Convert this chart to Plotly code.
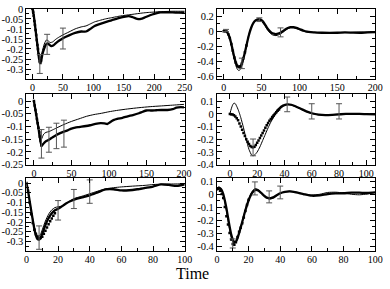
import plotly.graph_objects as go

# ---------------- Panel A (top-left) ----------------
a_thick_x = [0, 2, 4, 6, 8, 10, 12, 14, 16, 19, 22, 25, 28, 31, 34, 38, 44, 50, 60, 70, 80, 88, 95, 102, 110, 120, 130, 140, 150, 158, 165, 172, 178, 185, 193, 200, 210, 220, 230, 240, 250]
a_thick_y = [0, -0.03, -0.08, -0.13, -0.18, -0.23, -0.265, -0.26, -0.23, -0.2, -0.178, -0.172, -0.18, -0.186, -0.183, -0.172, -0.158, -0.146, -0.132, -0.12, -0.113, -0.113, -0.1, -0.085, -0.076, -0.066, -0.057, -0.048, -0.04, -0.036, -0.042, -0.05, -0.05, -0.042, -0.032, -0.025, -0.018, -0.017, -0.018, -0.019, -0.02]
a_thin_x = [0, 2, 4, 6, 8, 10, 12, 14, 17, 20, 23, 26, 29, 33, 38, 44, 50, 60, 70, 80, 88, 95, 102, 110, 120, 130, 140, 150, 160, 170, 180, 190, 200, 210, 220, 230, 240, 250]
a_thin_y = [0, -0.03, -0.08, -0.13, -0.18, -0.22, -0.245, -0.235, -0.2, -0.17, -0.155, -0.16, -0.168, -0.165, -0.152, -0.14, -0.13, -0.115, -0.1, -0.09, -0.085, -0.075, -0.065, -0.058, -0.05, -0.044, -0.038, -0.033, -0.029, -0.025, -0.021, -0.018, -0.016, -0.014, -0.013, -0.012, -0.012, -0.012]
a_dot_x = [0, 1, 2, 3, 4, 5, 6, 7, 8, 9, 10, 11, 12, 13, 14]
a_dot_y = [0, -0.015, -0.035, -0.06, -0.08, -0.105, -0.13, -0.155, -0.18, -0.2, -0.225, -0.245, -0.265, -0.27, -0.26]
a_err_x = [12, 24, 50]
a_err_y = [-0.275, -0.177, -0.148]
a_err = [0.047, 0.05, 0.052]

# ---------------- Panel B (top-right) ----------------
b_x = [0, 2, 4, 6, 8, 10, 12, 14, 16, 18, 20, 22, 24, 26, 28, 30, 33, 36, 39, 42, 45, 48, 51, 54, 57, 60, 63, 66, 69, 72, 76, 80, 84, 88, 92, 96, 100, 105, 110, 115, 120, 130, 140, 150, 160, 170, 180, 190, 200]
b_thin_y = [0, 0.01, 0.0, -0.04, -0.1, -0.19, -0.29, -0.38, -0.46, -0.51, -0.525, -0.51, -0.46, -0.38, -0.29, -0.19, -0.05, 0.05, 0.11, 0.14, 0.15, 0.145, 0.12, 0.08, 0.03, -0.01, -0.04, -0.055, -0.058, -0.05, -0.03, 0.0, 0.03, 0.045, 0.045, 0.035, 0.02, 0.0, -0.01, -0.015, -0.018, -0.02, -0.02, -0.02, -0.018, -0.015, -0.012, -0.01, -0.008]
b_thick_y = [0, 0.005, -0.005, -0.04, -0.09, -0.17, -0.26, -0.35, -0.42, -0.465, -0.48, -0.47, -0.43, -0.36, -0.28, -0.19, -0.06, 0.04, 0.11, 0.145, 0.16, 0.16, 0.14, 0.1, 0.05, 0.01, -0.02, -0.033, -0.037, -0.03, -0.012, 0.015, 0.04, 0.054, 0.055, 0.045, 0.03, 0.01, -0.005, -0.012, -0.015, -0.02, -0.022, -0.02, -0.015, -0.018, -0.02, -0.015, -0.012]
b_dot_x = [0, 2, 4, 6, 8, 10, 12, 14, 16, 18, 20, 22, 24, 26, 28, 30]
b_dot_y = [0, 0.005, -0.005, -0.04, -0.09, -0.17, -0.26, -0.35, -0.42, -0.465, -0.48, -0.47, -0.43, -0.36, -0.28, -0.19]
b_err_x = [3, 24, 47, 75]
b_err_y = [0.01, -0.43, 0.155, -0.015]
b_err = [0.015, 0.07, 0.025, 0.06]

# ---------------- Panel C (middle-left) ----------------
c_thick_x = [0, 2, 4, 6, 8, 10, 12, 15, 20, 25, 30, 35, 40, 45, 50, 55, 60, 67, 75, 82, 89, 94, 98, 102, 106, 111, 118, 125, 132, 140, 145, 150, 156, 163, 170, 178, 185, 190, 196, 200]
c_thick_y = [0, -0.035, -0.07, -0.105, -0.14, -0.175, -0.17, -0.16, -0.152, -0.142, -0.133, -0.126, -0.12, -0.115, -0.108, -0.104, -0.102, -0.099, -0.095, -0.09, -0.087, -0.088, -0.09, -0.082, -0.075, -0.07, -0.066, -0.06, -0.055, -0.048, -0.042, -0.037, -0.037, -0.036, -0.035, -0.035, -0.032, -0.026, -0.024, -0.025]
c_thin_x = [0, 2, 4, 6, 8, 10, 13, 16, 20, 25, 30, 40, 50, 60, 70, 80, 90, 100, 110, 125, 140, 155, 170, 185, 200]
c_thin_y = [0, -0.035, -0.075, -0.115, -0.155, -0.15, -0.13, -0.123, -0.12, -0.113, -0.106, -0.092, -0.08, -0.07, -0.06, -0.053, -0.048, -0.042, -0.037, -0.031, -0.026, -0.022, -0.019, -0.016, -0.013]
c_dot_x = [0, 1, 2, 3, 4, 5, 6, 7, 8, 9, 10]
c_dot_y = [0, -0.017, -0.035, -0.052, -0.07, -0.087, -0.105, -0.122, -0.14, -0.157, -0.175]
c_err_x = [10, 20, 30, 40]
c_err_y = [-0.168, -0.152, -0.137, -0.128]
c_err = [0.056, 0.049, 0.05, 0.053]

# ---------------- Panel D (middle-right) ----------------
d_thin_x = [0, 1, 2, 3, 4, 5, 6, 7, 8, 10, 12, 14, 16, 17, 18, 20, 22, 24, 26, 28, 30, 32, 34, 36, 38, 40, 42, 44, 46, 48, 50, 53, 56, 60, 64, 68, 72, 76, 80, 85, 90, 95, 100, 107]
d_thin_y = [0, 0.04, 0.07, 0.085, 0.08, 0.06, 0.035, 0.005, -0.03, -0.11, -0.2, -0.28, -0.325, -0.33, -0.325, -0.3, -0.26, -0.21, -0.16, -0.11, -0.065, -0.025, 0.01, 0.035, 0.055, 0.068, 0.073, 0.072, 0.066, 0.058, 0.048, 0.033, 0.018, 0.003, -0.006, -0.009, -0.008, -0.005, -0.002, 0.0, 0.0, 0.0, 0.0, -0.002]
d_thick_x = [30, 33, 36, 39, 42, 45, 48, 52, 56, 60, 65, 70, 75, 80, 85, 90, 95, 100, 107]
d_thick_y = [-0.05, 0.0, 0.04, 0.065, 0.075, 0.072, 0.06, 0.04, 0.02, 0.005, -0.006, -0.01, -0.008, -0.004, 0.0, 0.0, 0.0, -0.002, -0.004]
d_dot_x = [0, 1, 2, 3, 4, 5, 6, 7, 8, 9, 10, 11, 12, 13, 14, 15, 16, 17, 18, 19, 20, 21, 22, 23, 24, 25, 26, 27, 28, 29, 30, 31, 32, 33, 34, 35, 36]
d_dot_y = [0, -0.002, -0.005, -0.01, -0.02, -0.035, -0.05, -0.075, -0.1, -0.125, -0.15, -0.175, -0.2, -0.22, -0.238, -0.252, -0.26, -0.262, -0.258, -0.245, -0.228, -0.21, -0.19, -0.17, -0.15, -0.13, -0.11, -0.09, -0.072, -0.055, -0.04, -0.025, -0.012, 0.0, 0.012, 0.024, 0.035]
d_err_x = [17, 42, 60, 80]
d_err_y = [-0.264, 0.075, 0.02, 0.02]
d_err = [0.066, 0.058, 0.06, 0.06]

# ---------------- Panel E (bottom-left) ----------------
e_thick_x = [0, 1, 2, 3, 4, 5, 6, 7, 8, 9, 10, 12, 14, 16, 18, 20, 22, 25, 28, 31, 35, 40, 45, 50, 55, 60, 65, 70, 75, 80, 85, 90, 95, 100]
e_thick_y = [0, -0.04, -0.09, -0.14, -0.19, -0.235, -0.27, -0.288, -0.29, -0.28, -0.26, -0.215, -0.18, -0.155, -0.14, -0.132, -0.122, -0.105, -0.092, -0.083, -0.074, -0.063, -0.048, -0.033, -0.032, -0.038, -0.037, -0.032, -0.025, -0.018, -0.007, -0.01, -0.015, -0.007]
e_thin_x = [0, 1, 2, 3, 4, 5, 6, 7, 8, 9, 10, 12, 14, 16, 18, 20, 23, 26, 30, 35, 40, 45, 50, 55, 60, 67, 75, 80, 87, 93, 100]
e_thin_y = [0, -0.04, -0.09, -0.14, -0.185, -0.225, -0.255, -0.27, -0.272, -0.262, -0.24, -0.195, -0.16, -0.138, -0.126, -0.122, -0.118, -0.1, -0.08, -0.068, -0.055, -0.042, -0.03, -0.024, -0.02, -0.016, -0.012, -0.008, -0.005, -0.005, -0.004]
e_dot_x = [0, 1, 2, 3, 4, 5, 6, 7, 8, 9, 10, 11, 12, 13, 14, 15, 16, 17, 18]
e_dot_y = [0, -0.04, -0.1, -0.16, -0.205, -0.24, -0.262, -0.276, -0.282, -0.282, -0.275, -0.26, -0.245, -0.228, -0.212, -0.196, -0.182, -0.168, -0.155]
e_err_x = [8, 20, 30, 40]
e_err_y = [-0.28, -0.14, -0.082, -0.044]
e_err = [0.06, 0.05, 0.049, 0.06]

# ---------------- Panel F (bottom-right) ----------------
f_x = [0, 1, 2, 3, 4, 5, 6, 7, 8, 9, 10, 11, 12, 13, 14, 16, 18, 20, 22, 24, 26, 28, 30, 32, 34, 36, 38, 40, 43, 46, 50, 55, 60, 65, 70, 75, 80, 85, 90, 95, 100]
f_thin_y = [0.04, 0.055, 0.05, 0.03, -0.005, -0.06, -0.13, -0.2, -0.27, -0.33, -0.37, -0.38, -0.37, -0.34, -0.3, -0.21, -0.12, -0.04, 0.015, 0.042, 0.035, 0.01, -0.018, -0.035, -0.038, -0.028, -0.01, 0.005, 0.018, 0.022, 0.015, 0.0, -0.008, -0.002, 0.012, 0.014, 0.008, -0.002, -0.006, 0.0, 0.012]
f_thick_y = [0.03, 0.045, 0.045, 0.03, 0.0, -0.05, -0.11, -0.18, -0.25, -0.31, -0.35, -0.37, -0.365, -0.34, -0.3, -0.215, -0.125, -0.05, 0.005, 0.03, 0.028, 0.008, -0.015, -0.03, -0.032, -0.024, -0.008, 0.006, 0.016, 0.02, 0.012, -0.002, -0.013, -0.01, 0.0, 0.005, 0.006, 0.01, 0.01, 0.008, 0.012]
f_dot_x = [0, 1, 2, 3, 4, 5, 6, 7, 8, 9, 10, 11, 12, 13, 14, 15, 16, 17, 18, 19, 20]
f_dot_y = [0.045, 0.04, 0.025, 0.0, -0.03, -0.1, -0.17, -0.235, -0.3, -0.35, -0.385, -0.39, -0.37, -0.33, -0.29, -0.26, -0.225, -0.18, -0.13, -0.085, -0.045]
f_err_x = [10, 24, 33, 40]
f_err_y = [-0.38, 0.043, -0.022, 0.012]
f_err = [0.035, 0.05, 0.046, 0.049]

# tick labels (hyphen-minus, as in the original)
a_yticks = [0, -0.05, -0.1, -0.15, -0.2, -0.25, -0.3]
a_ylabels = ["0", "-0.05", "-0.1", "-0.15", "-0.2", "-0.25", "-0.3"]
b_yticks = [0.2, 0, -0.2, -0.4, -0.6]
b_ylabels = ["0.2", "0", "-0.2", "-0.4", "-0.6"]
c_yticks = [0, -0.05, -0.1, -0.15, -0.2, -0.25]
c_ylabels = ["0", "-0.05", "-0.1", "-0.15", "-0.2", "-0.25"]
d_yticks = [0.1, 0, -0.1, -0.2, -0.3, -0.4]
d_ylabels = ["0.1", "0", "-0.1", "-0.2", "-0.3", "-0.4"]
e_yticks = a_yticks
e_ylabels = a_ylabels
f_yticks = d_yticks
f_ylabels = d_ylabels

W, H = 390, 289
fig = go.Figure()

panels = [
    dict(thick=(a_thick_x, a_thick_y), thin=(a_thin_x, a_thin_y), dots=(a_dot_x, a_dot_y),
         err=(a_err_x, a_err_y, a_err), xr=[-10, 250], yr=[-0.35, 0], xd=50, xm=25,
         yt=a_yticks, yl=a_ylabels, ym=0.025, box=(25, 187, 4, 77)),
    dict(thick=(b_x, b_thick_y), thin=(b_x, b_thin_y), dots=(b_dot_x, b_dot_y),
         err=(b_err_x, b_err_y, b_err), xr=[-9, 200], yr=[-0.64, 0.3], xd=50, xm=25,
         yt=b_yticks, yl=b_ylabels, ym=0.1, box=(220, 382, 4, 77)),
    dict(thick=(c_thick_x, c_thick_y), thin=(c_thin_x, c_thin_y), dots=(c_dot_x, c_dot_y),
         err=(c_err_x, c_err_y, c_err), xr=[-10, 201], yr=[-0.25, 0.026], xd=50, xm=25,
         yt=c_yticks, yl=c_ylabels, ym=0.025, box=(25, 187, 93, 166)),
    dict(thick=(d_thick_x, d_thick_y), thin=(d_thin_x, d_thin_y), dots=(d_dot_x, d_dot_y),
         err=(d_err_x, d_err_y, d_err), xr=[-9.5, 106.5], yr=[-0.4, 0.153], xd=20, xm=10,
         yt=d_yticks, yl=d_ylabels, ym=0.05, box=(220, 382, 93, 166)),
    dict(thick=(e_thick_x, e_thick_y), thin=(e_thin_x, e_thin_y), dots=(e_dot_x, e_dot_y),
         err=(e_err_x, e_err_y, e_err), xr=[0, 100], yr=[-0.35, 0.025], xd=20, xm=10,
         yt=e_yticks, yl=e_ylabels, ym=0.025, box=(25, 187, 180, 256)),
    dict(thick=(f_x, f_thick_y), thin=(f_x, f_thin_y), dots=(f_dot_x, f_dot_y),
         err=(f_err_x, f_err_y, f_err), xr=[0, 100], yr=[-0.44, 0.122], xd=20, xm=10,
         yt=f_yticks, yl=f_ylabels, ym=0.05, box=(220, 382, 180, 256)),
]

font = dict(family="Liberation Serif", size=10.5, color="black")
xfont = dict(family="Liberation Serif", size=10, color="black")
for i, p in enumerate(panels, start=1):
    xa = "x" if i == 1 else f"x{i}"
    ya = "y" if i == 1 else f"y{i}"
    fig.add_trace(go.Scatter(x=p["thin"][0], y=p["thin"][1], mode="lines",
                             line=dict(color="black", width=1, shape="spline", smoothing=0.6),
                             xaxis=xa, yaxis=ya, showlegend=False, hoverinfo="skip"))
    fig.add_trace(go.Scatter(x=p["thick"][0], y=p["thick"][1], mode="lines",
                             line=dict(color="black", width=2.3, shape="spline", smoothing=0.6),
                             xaxis=xa, yaxis=ya, showlegend=False, hoverinfo="skip"))
    fig.add_trace(go.Scatter(x=p["dots"][0], y=p["dots"][1], mode="markers",
                             marker=dict(symbol="square", size=2.5, color="black"),
                             xaxis=xa, yaxis=ya, showlegend=False, hoverinfo="skip"))
    fig.add_trace(go.Scatter(x=p["err"][0], y=p["err"][1], mode="markers",
                             marker=dict(size=0.1, color="rgba(0,0,0,0)"),
                             error_y=dict(type="data", array=p["err"][2], color="#555555",
                                          thickness=1, width=3),
                             xaxis=xa, yaxis=ya, showlegend=False, hoverinfo="skip"))
    x0, x1, y0, y1 = p["box"]
    common = dict(showline=True, linecolor="black", linewidth=1, mirror="allticks",
                  ticks="inside", ticklen=5, tickwidth=1, tickcolor="black",
                  showgrid=False, zeroline=False)
    fig.layout[("xaxis" if i == 1 else f"xaxis{i}")] = dict(
        domain=[x0 / W, x1 / W], anchor=ya, range=p["xr"], tickmode="linear", tick0=0,
        dtick=p["xd"], tickfont=xfont, ticklabelstandoff=-1,
        minor=dict(tickmode="linear", tick0=0, dtick=p["xm"], ticks="inside",
                   ticklen=3, tickcolor="black", showgrid=False),
        **common)
    fig.layout[("yaxis" if i == 1 else f"yaxis{i}")] = dict(
        domain=[1 - y1 / H, 1 - y0 / H], anchor=xa, range=p["yr"], tickmode="array",
        tickvals=p["yt"], ticktext=p["yl"], tickfont=font,
        minor=dict(tickmode="linear", tick0=0, dtick=p["ym"], ticks="inside",
                   ticklen=3, tickcolor="black", showgrid=False),
        **common)

fig.add_annotation(text="Time", xref="paper", yref="paper", x=0.5, y=0,
                   xanchor="center", yanchor="bottom", showarrow=False, borderpad=0,
                   font=dict(family="Liberation Serif", size=16, color="black"))

fig.update_layout(width=W, height=H, margin=dict(l=0, r=0, t=0, b=0),
                  paper_bgcolor="white", plot_bgcolor="white", hovermode=False)
fig.write_html("out.html", config={"displayModeBar": False, "staticPlot": True},
               post_script="document.body.style.margin='0';")
